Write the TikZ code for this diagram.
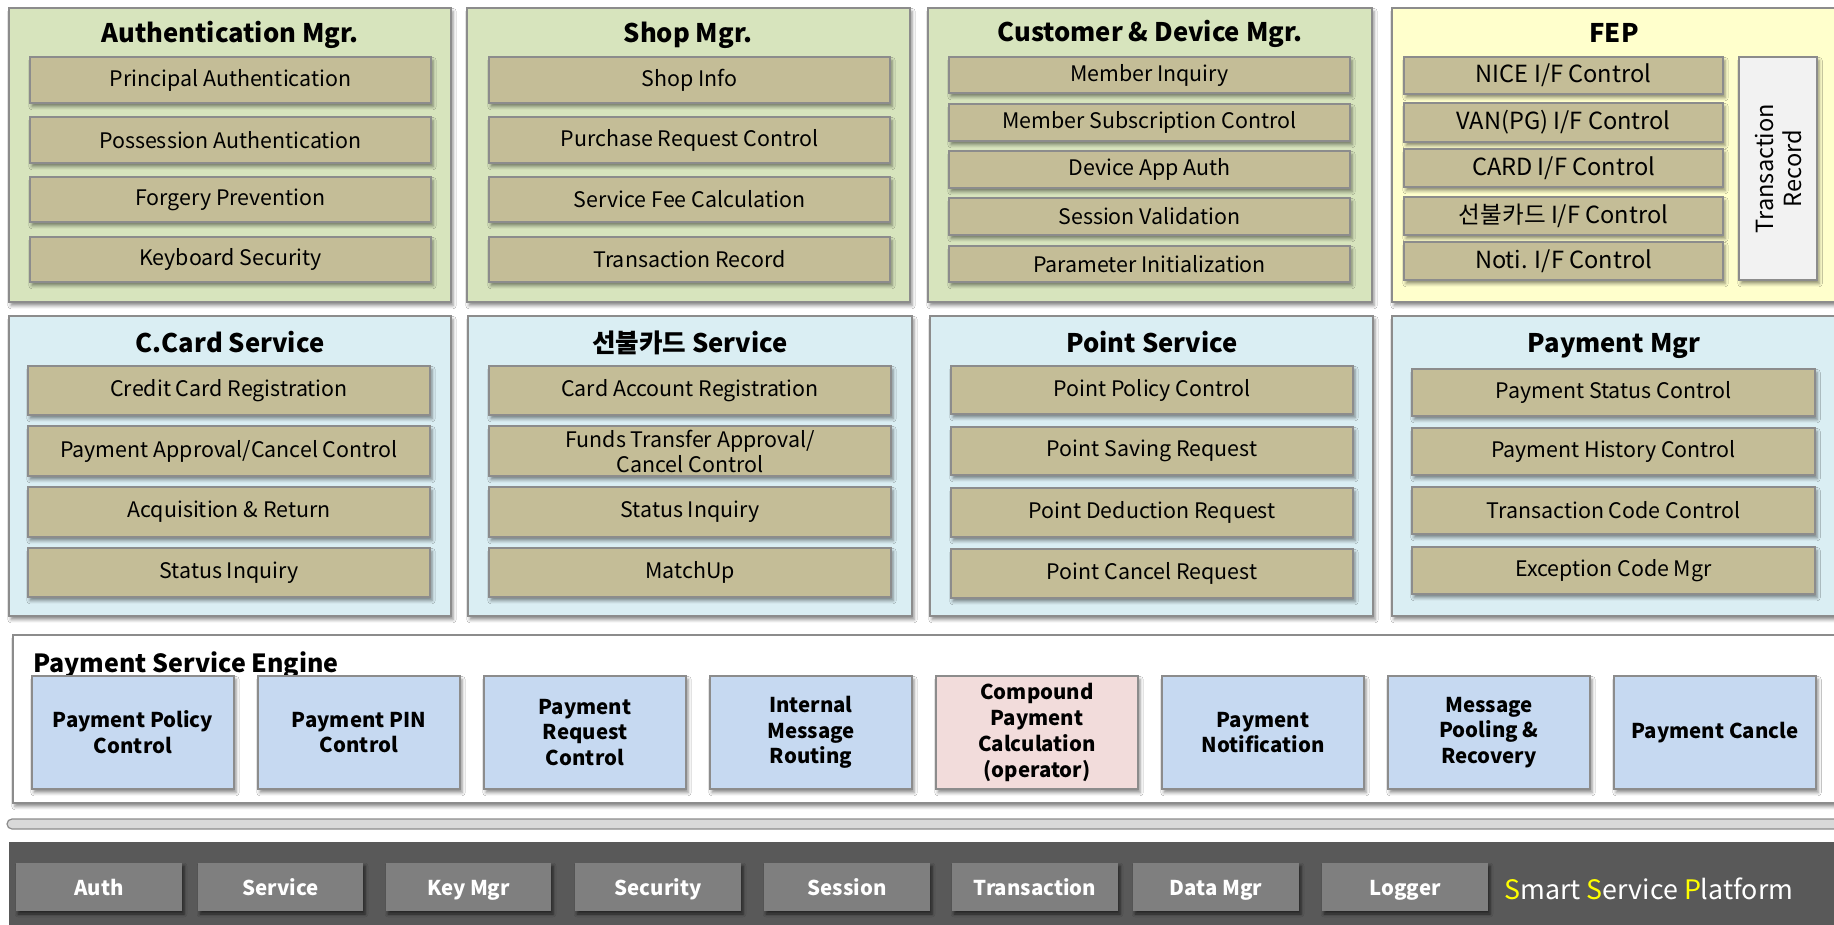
\documentclass[tikz,border=0pt]{standalone}
\usepackage{fontspec}
\setmainfont{Noto Sans CJK KR}
\usetikzlibrary{fit,shadows.blur}

\definecolor{panelgreen}{RGB}{215,228,189}
\definecolor{panelyellow}{RGB}{255,255,204}
\definecolor{panelblue}{RGB}{218,238,243}
\definecolor{itemtan}{RGB}{196,189,151}
\definecolor{recordgray}{RGB}{242,242,242}
\definecolor{enginecell}{RGB}{198,217,241}
\definecolor{enginepink}{RGB}{242,220,219}
\definecolor{platdark}{RGB}{89,89,89}
\definecolor{platcell}{RGB}{127,127,127}
\definecolor{edgegray}{RGB}{140,140,140}
\definecolor{smartyellow}{RGB}{255,255,0}

\tikzset{
  box/.style={draw=edgegray, line width=0.6pt, inner sep=0pt,
    blur shadow={shadow xshift=1pt, shadow yshift=-1.8pt, shadow blur radius=1.6pt, shadow opacity=45}},
  panel/.style={box},
  paneltitle/.style={anchor=base, inner sep=0pt, font=\bfseries\fontsize{12.8}{15}\selectfont},
  item/.style={box, fill=itemtan},
  itemtext/.style={align=center, inner sep=0pt, font=\fontsize{10.7}{12.5}\selectfont},
  feptext/.style={itemtext, font=\fontsize{11.8}{14}\selectfont},
  enginebox/.style={box, fill=enginecell},
  enginetext/.style={align=center, inner sep=0pt, font=\bfseries\fontsize{10.2}{12.85}\selectfont},
  platbox/.style={fill=platcell, inner sep=0pt,
    blur shadow={shadow xshift=1pt, shadow yshift=-1.5pt, shadow blur radius=1.5pt, shadow opacity=60}},
  plattext/.style={inner sep=0pt, text=white, text height=0.8em, text depth=0em,
    font=\bfseries\fontsize{10.2}{12}\selectfont}
}

\begin{document}
\begin{tikzpicture}[x=0.5pt,y=-0.5pt]
  \useasboundingbox (0,0) rectangle (1834,925);
  \fill[white] (0,0) rectangle (1834,925);
  \clip (0,0) rectangle (1834,925);

  % row 1
  \node[panel,fill=panelgreen,fit={(9,8) (451,302)}] (authmgr) {};
  \node[paneltitle] (authmgr-t) at (230,43) {Authentication Mgr.};
  \node[item,fit={(30,57) (431,103)}] (authmgr-1) {};
  \node[itemtext] (authmgr-1-t) at (authmgr-1) {Principal Authentication};
  \node[item,fit={(30,117) (431,163)}] (authmgr-2) {};
  \node[itemtext] (authmgr-2-t) at (authmgr-2) {Possession Authentication};
  \node[item,fit={(30,177) (431,222)}] (authmgr-3) {};
  \node[itemtext] (authmgr-3-t) at (authmgr-3) {Forgery Prevention};
  \node[item,fit={(30,237) (431,282)}] (authmgr-4) {};
  \node[itemtext] (authmgr-4-t) at (authmgr-4) {Keyboard Security};

  \node[panel,fill=panelgreen,fit={(467,8) (910,302)}] (shopmgr) {};
  \node[paneltitle] (shopmgr-t) at (688,43) {Shop Mgr.};
  \node[item,fit={(489,57) (890,103)}] (shopmgr-1) {};
  \node[itemtext] (shopmgr-1-t) at (shopmgr-1) {Shop Info};
  \node[item,fit={(489,117) (890,163)}] (shopmgr-2) {};
  \node[itemtext] (shopmgr-2-t) at (shopmgr-2) {Purchase Request Control};
  \node[item,fit={(489,177) (890,222)}] (shopmgr-3) {};
  \node[itemtext] (shopmgr-3-t) at (shopmgr-3) {Service Fee Calculation};
  \node[item,fit={(489,237) (890,282)}] (shopmgr-4) {};
  \node[itemtext] (shopmgr-4-t) at (shopmgr-4) {Transaction Record};

  \node[panel,fill=panelgreen,fit={(928,8) (1372,302)}] (custmgr) {};
  \node[paneltitle] (custmgr-t) at (1150,42) {Customer \& Device Mgr.};
  \node[item,fit={(949,57) (1350,93)}] (custmgr-1) {};
  \node[itemtext] (custmgr-1-t) at (custmgr-1) {Member Inquiry};
  \node[item,fit={(949,104) (1350,141)}] (custmgr-2) {};
  \node[itemtext] (custmgr-2-t) at (custmgr-2) {Member Subscription Control};
  \node[item,fit={(949,151) (1350,188)}] (custmgr-3) {};
  \node[itemtext] (custmgr-3-t) at (custmgr-3) {Device App Auth};
  \node[item,fit={(949,198) (1350,235)}] (custmgr-4) {};
  \node[itemtext] (custmgr-4-t) at (custmgr-4) {Session Validation};
  \node[item,fit={(949,246) (1350,282)}] (custmgr-5) {};
  \node[itemtext] (custmgr-5-t) at (custmgr-5) {Parameter Initialization};

  \node[panel,fill=panelyellow,fit={(1392,8) (1850,302)}] (fep) {};
  \node[paneltitle] (fep-t) at (1614,43) {FEP};
  \node[item,fit={(1404,57) (1723,94)}] (fep-1) {};
  \node[feptext] (fep-1-t) at (fep-1) {NICE I/F Control};
  \node[item,fit={(1404,103) (1723,142)}] (fep-2) {};
  \node[feptext] (fep-2-t) at (fep-2) {VAN(PG) I/F Control};
  \node[item,fit={(1404,149) (1723,187)}] (fep-3) {};
  \node[feptext] (fep-3-t) at (fep-3) {CARD I/F Control};
  \node[item,fit={(1404,197) (1723,235)}] (fep-4) {};
  \node[feptext] (fep-4-t) at (fep-4) {선불카드 I/F Control};
  \node[item,fit={(1404,242) (1723,280)}] (fep-5) {};
  \node[feptext] (fep-5-t) at (fep-5) {Noti. I/F Control};
  \node[box,fill=recordgray,fit={(1739,57) (1817,280)}] (fep-rec) {};
  \node[feptext,rotate=90] (fep-rec-t) at (fep-rec) {Transaction\\Record};

  % row 2
  \node[panel,fill=panelblue,fit={(9,316) (451,616)}] (ccard) {};
  \node[paneltitle] (ccard-t) at (230,352) {C.Card Service};
  \node[item,fit={(28,366) (430,415)}] (ccard-1) {};
  \node[itemtext] (ccard-1-t) at (ccard-1) {Credit Card Registration};
  \node[item,fit={(28,426) (430,476)}] (ccard-2) {};
  \node[itemtext] (ccard-2-t) at (ccard-2) {Payment Approval/Cancel Control};
  \node[item,fit={(28,487) (430,537)}] (ccard-3) {};
  \node[itemtext] (ccard-3-t) at (ccard-3) {Acquisition \& Return};
  \node[item,fit={(28,548) (430,597)}] (ccard-4) {};
  \node[itemtext] (ccard-4-t) at (ccard-4) {Status Inquiry};

  \node[panel,fill=panelblue,fit={(468,316) (912,616)}] (prepaid) {};
  \node[paneltitle] (prepaid-t) at (690,352) {선불카드 Service};
  \node[item,fit={(489,366) (891,415)}] (prepaid-1) {};
  \node[itemtext] (prepaid-1-t) at (prepaid-1) {Card Account Registration};
  \node[item,fit={(489,426) (891,476)}] (prepaid-2) {};
  \node[itemtext] (prepaid-2-t) at (prepaid-2) {Funds Transfer Approval/\\Cancel Control};
  \node[item,fit={(489,487) (891,537)}] (prepaid-3) {};
  \node[itemtext] (prepaid-3-t) at (prepaid-3) {Status Inquiry};
  \node[item,fit={(489,548) (891,597)}] (prepaid-4) {};
  \node[itemtext] (prepaid-4-t) at (prepaid-4) {MatchUp};

  \node[panel,fill=panelblue,fit={(930,316) (1373,616)}] (point) {};
  \node[paneltitle] (point-t) at (1152,352) {Point Service};
  \node[item,fit={(951,366) (1353,414)}] (point-1) {};
  \node[itemtext] (point-1-t) at (point-1) {Point Policy Control};
  \node[item,fit={(951,427) (1353,475)}] (point-2) {};
  \node[itemtext] (point-2-t) at (point-2) {Point Saving Request};
  \node[item,fit={(951,488) (1353,537)}] (point-3) {};
  \node[itemtext] (point-3-t) at (point-3) {Point Deduction Request};
  \node[item,fit={(951,549) (1353,598)}] (point-4) {};
  \node[itemtext] (point-4-t) at (point-4) {Point Cancel Request};

  \node[panel,fill=panelblue,fit={(1392,316) (1850,616)}] (paymgr) {};
  \node[paneltitle] (paymgr-t) at (1614,352) {Payment Mgr};
  \node[item,fit={(1412,369) (1815,416)}] (paymgr-1) {};
  \node[itemtext] (paymgr-1-t) at (paymgr-1) {Payment Status Control};
  \node[item,fit={(1412,428) (1815,475)}] (paymgr-2) {};
  \node[itemtext] (paymgr-2-t) at (paymgr-2) {Payment History Control};
  \node[item,fit={(1412,487) (1815,534)}] (paymgr-3) {};
  \node[itemtext] (paymgr-3-t) at (paymgr-3) {Transaction Code Control};
  \node[item,fit={(1412,547) (1815,594)}] (paymgr-4) {};
  \node[itemtext] (paymgr-4-t) at (paymgr-4) {Exception Code Mgr};

  % engine
  \node[panel,fill=white,fit={(13,635) (1850,803)}] (engine) {};
  \node[paneltitle,anchor=base west,font=\bfseries\fontsize{12.5}{15}\selectfont] (engine-t) at (33,672) {Payment Service Engine};
  \node[enginebox,fit={(32,676) (234,789)}] (engine-1) {};
  \node[enginetext] (engine-1-t) at (engine-1) {Payment Policy\\Control};
  \node[enginebox,fit={(258,676) (460,789)}] (engine-2) {};
  \node[enginetext] (engine-2-t) at (engine-2) {Payment PIN\\Control};
  \node[enginebox,fit={(484,676) (686,789)}] (engine-3) {};
  \node[enginetext] (engine-3-t) at (engine-3) {Payment\\Request\\Control};
  \node[enginebox,fit={(710,676) (912,789)}] (engine-4) {};
  \node[enginetext] (engine-4-t) at (engine-4) {Internal\\Message\\Routing};
  \node[enginebox,fill=enginepink,fit={(936,676) (1138,789)}] (engine-5) {};
  \node[enginetext] (engine-5-t) at (engine-5) {Compound\\Payment\\Calculation\\(operator)};
  \node[enginebox,fit={(1162,676) (1364,789)}] (engine-6) {};
  \node[enginetext] (engine-6-t) at (engine-6) {Payment\\Notification};
  \node[enginebox,fit={(1388,676) (1590,789)}] (engine-7) {};
  \node[enginetext] (engine-7-t) at (engine-7) {Message\\Pooling \&\\Recovery};
  \node[enginebox,fit={(1614,676) (1816,789)}] (engine-8) {};
  \node[enginetext] (engine-8-t) at (engine-8) {Payment Cancle};

  \node[draw=edgegray,line width=0.6pt,fill=black!15,rounded corners=2.5pt,inner sep=0pt,fit={(7,819) (1850,829)}] (divider) {};

  % platform
  \node[fill=platdark,inner sep=0pt,fit={(9,842) (1850,940)}] (platform) {};
  \node[platbox,fit={(16,863) (182,911)}] (plat-1) {};
  \node[plattext] (plat-1-t) at (plat-1) {Auth};
  \node[platbox,fit={(198,863) (363,911)}] (plat-2) {};
  \node[plattext] (plat-2-t) at (plat-2) {Service};
  \node[platbox,fit={(386,863) (551,911)}] (plat-3) {};
  \node[plattext] (plat-3-t) at (plat-3) {Key Mgr};
  \node[platbox,fit={(575,863) (741,911)}] (plat-4) {};
  \node[plattext] (plat-4-t) at (plat-4) {Security};
  \node[platbox,fit={(764,863) (930,911)}] (plat-5) {};
  \node[plattext] (plat-5-t) at (plat-5) {Session};
  \node[platbox,fit={(952,863) (1118,911)}] (plat-6) {};
  \node[plattext] (plat-6-t) at (plat-6) {Transaction};
  \node[platbox,fit={(1133,863) (1299,911)}] (plat-7) {};
  \node[plattext] (plat-7-t) at (plat-7) {Data Mgr};
  \node[platbox,fit={(1322,863) (1488,911)}] (plat-8) {};
  \node[plattext] (plat-8-t) at (plat-8) {Logger};
  \node[anchor=base west,inner sep=0pt,text=white,font=\fontsize{13.4}{16}\selectfont] (platform-t) at (1504,899)
    {{\color{smartyellow}S}mart {\color{smartyellow}S}ervice {\color{smartyellow}P}latform};
\end{tikzpicture}
\end{document}
